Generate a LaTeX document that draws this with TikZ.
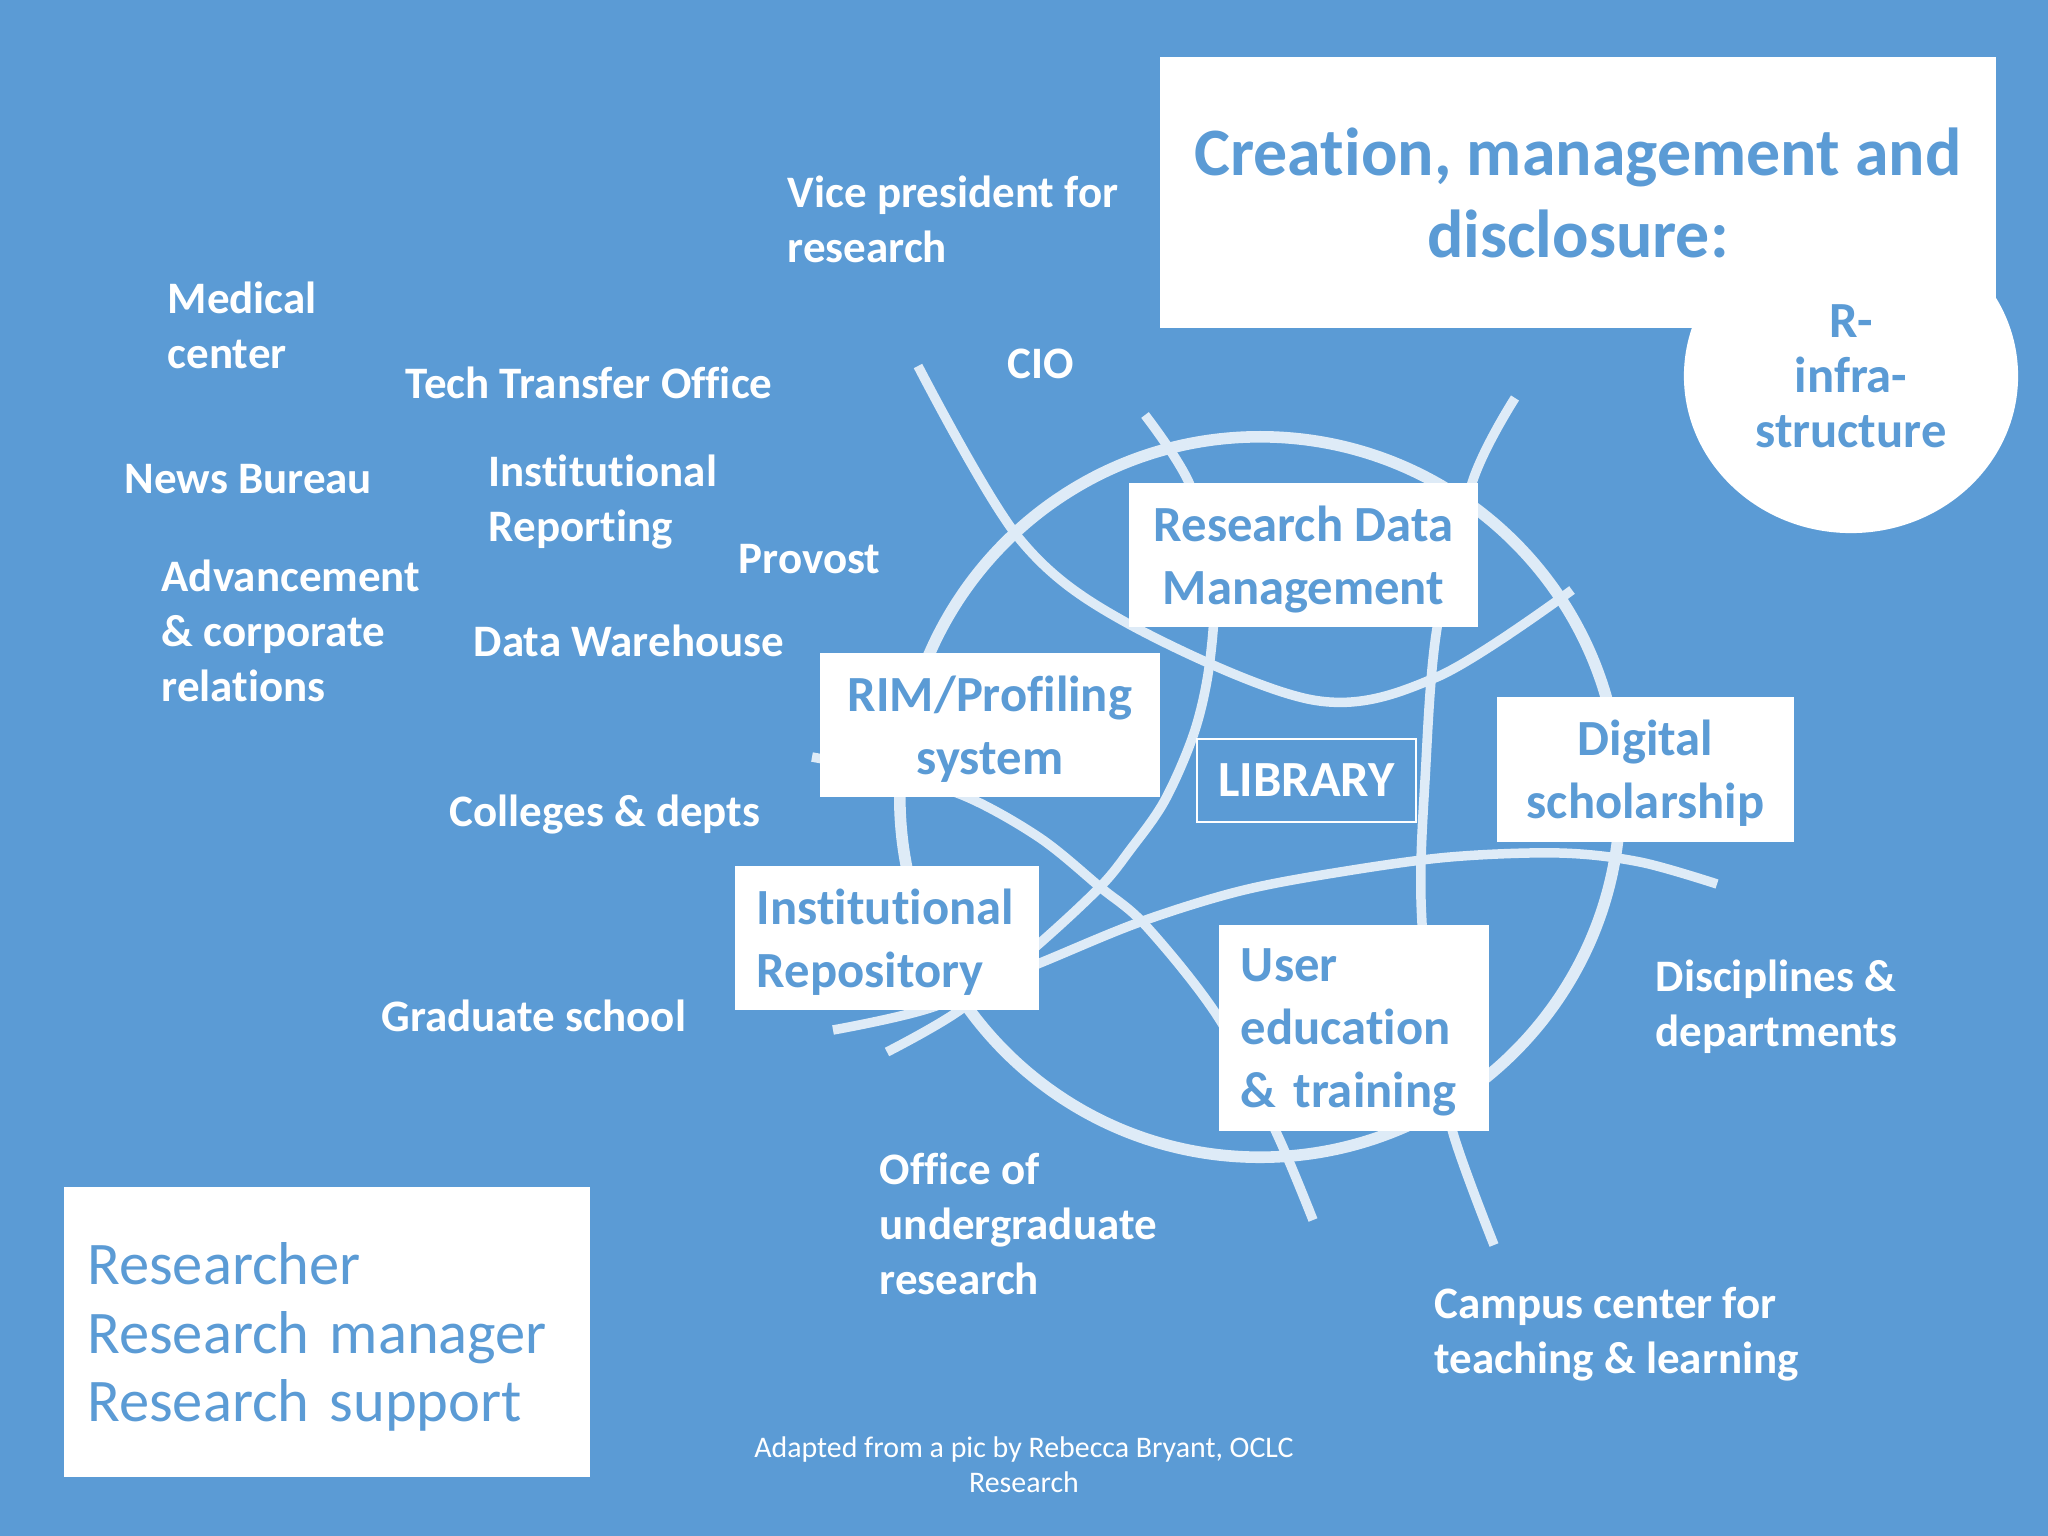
\documentclass[tikz,border=0pt]{standalone}
\usepackage{fontspec}
\setmainfont{Carlito}[Ligatures=NoCommon]
\usetikzlibrary{shapes.geometric}

\definecolor{slideblue}{RGB}{91,155,213}
\definecolor{ringwhite}{RGB}{222,235,247}

\tikzset{
	lbl/.style={text=white, font=\bfseries\fontsize{12.8}{15.6}\selectfont, align=left, anchor=west, inner sep=0pt, text depth=0pt},
	box/.style={fill=white, text=slideblue, font=\bfseries\fontsize{14.4}{17.8}\selectfont, inner sep=0pt, align=center, minimum height=1.44cm, text depth=0pt},
	ribbon/.style={draw=ringwhite, line width=2.7pt},
}

\begin{document}
\begin{tikzpicture}[x=0.01cm, y=-0.01cm]
		\fill[slideblue] (0,0) rectangle (2048,1536);
		\useasboundingbox (0,0) rectangle (2048,1536);

		% title and R-infrastructure
		\node[fill=white, text=slideblue, font=\bfseries\fontsize{19.3}{23.3}\selectfont, align=center, minimum width=8.36cm, minimum height=2.71cm, inner sep=0pt] (title) at (1578,192.5) {Creation, management and\\disclosure:};
		\node[ellipse, fill=white, text=slideblue, font=\bfseries\fontsize{14.4}{15.6}\selectfont, align=center, minimum width=3.34cm, minimum height=3.14cm, inner sep=0pt] (rinfra) at (1851,376) {R-\\infra-\\structure};

		% the lines
		\draw[ribbon, line width=3.3pt] (1260,797) circle (3.6cm);
		\draw[ribbon] plot[smooth, tension=0.55] coordinates {(918,366) (1018,537) (1127,623) (1313,700) (1437,677) (1572,590)};
		\draw[ribbon] plot[smooth, tension=0.55] coordinates {(1145,415) (1190,485) (1213,580) (1210,660) (1195,730) (1165,800) (1130,850) (1100,887) (1040,943) (960,1010) (887,1052)};
		\draw[ribbon] plot[smooth, tension=0.55] coordinates {(1515,398) (1473,480) (1437,628) (1425,780) (1421,900) (1432,1030) (1453,1133) (1494,1245)};
		\draw[ribbon] plot[smooth, tension=0.55] coordinates {(812,757) (890,773) (967,797) (1040,838) (1100,887) (1147,927) (1220,1020) (1277,1134) (1313,1220)};
		\draw[ribbon] plot[smooth, tension=0.55] coordinates {(833,1030) (930,1008) (1040,963) (1140,922) (1240,891) (1340,872) (1450,857) (1560,853) (1640,862) (1717,884)};

		% library boxes
		\node[box, minimum width=3.49cm] (rdm) at (1303.5,555) {Research Data\\Management};
		\node[box, minimum width=3.40cm] (rim) at (990,725) {RIM/Profiling\\system};
		\node[draw=white, line width=0.5pt, text=white, font=\bfseries\fontsize{14.4}{17.8}\selectfont, minimum width=2.19cm, minimum height=0.83cm, inner sep=0pt] (library) at (1306.5,780.5) {LIBRARY};
		\node[box, minimum width=2.97cm, minimum height=1.45cm] (digital) at (1645.5,769.5) {Digital\\scholarship};
		\node[box, align=left, text width=2.60cm, inner xsep=0.22cm, text depth=17.8pt] (repo) at (887,938) {Institutional\\Repository};
		\node[box, align=left, text width=2.26cm, inner xsep=0.22cm, minimum height=2.06cm, text depth=35.6pt] (usered) at (1354,1028) {User\\education\\\& training};

		% campus units
		\node[lbl] (vpr) at (787,219) {Vice president for\\research};
		\node[lbl] (medical) at (167,325) {Medical\\center};
		\node[lbl] (tto) at (405,383) {Tech Transfer Office};
		\node[lbl] (cio) at (1007,364) {CIO};
		\node[lbl] (news) at (124,479) {News Bureau};
		\node[lbl] (reporting) at (488,498) {Institutional\\Reporting};
		\node[lbl] (provost) at (738,559) {Provost};
		\node[lbl] (advancement) at (161,631) {Advancement\\\& corporate\\relations};
		\node[lbl] (warehouse) at (473,641) {Data Warehouse};
		\node[lbl] (colleges) at (449,811) {Colleges \& depts};
		\node[lbl] (grad) at (381,1016) {Graduate school};
		\node[lbl] (undergrad) at (879,1224) {Office of\\undergraduate\\research};
		\node[lbl] (cctl) at (1434,1330) {Campus center for\\teaching \& learning};
		\node[lbl] (disciplines) at (1655,1003) {Disciplines \&\\departments};

		% roles and credit
		\node[fill=white, text=slideblue, font=\fontsize{17.2}{19.5}\selectfont, align=left, text width=4.79cm, inner xsep=0.235cm, inner ysep=0pt, minimum height=2.9cm, text depth=39pt] (roles) at (327,1332) {Researcher\\Research manager\\Research support};
		\node[text=white, font=\fontsize{8.5}{10}\selectfont, align=center, inner sep=0pt] (credit) at (1024,1465) {Adapted from a pic by Rebecca Bryant, OCLC\\Research};
	\end{tikzpicture}
\end{document}
